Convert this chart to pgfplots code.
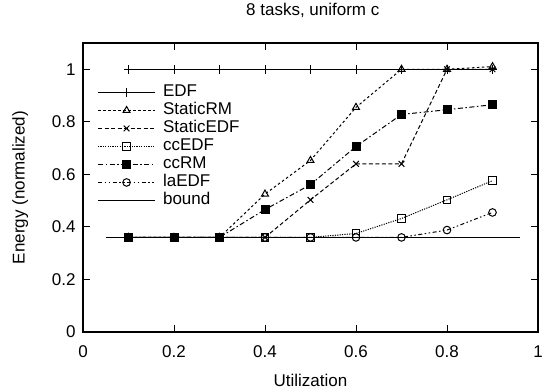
\documentclass[border=0pt]{standalone}
\usepackage{pgfplots}
\pgfplotsset{compat=1.18}
\usetikzlibrary{calc}
\usepackage{fontspec}
\setmainfont{Liberation Sans}
\newcommand{\lgap}{\hspace{7pt}}
\begin{document}
\begin{tikzpicture}
\begin{axis}[
  name=ax,
  scale only axis,
  width=455pt, height=289pt,
  xmin=0, xmax=1, ymin=0, ymax=1.1,
  xtick={0,0.2,0.4,0.6,0.8,1},
  ytick={0,0.2,0.4,0.6,0.8,1},
  xticklabels={0,0.2,0.4,0.6,0.8,1},
  yticklabels={0,0.2,0.4,0.6,0.8,1},
  tick align=inside,
  major tick length=7pt,
  axis line style={line width=1.4pt},
  every tick/.style={line width=1pt,black},
  tick label style={font=\fontsize{17}{19}\selectfont},
  xticklabel style={yshift=-10pt},
  yticklabel style={xshift=-4pt},
  label style={font=\fontsize{17}{19}\selectfont},
  xlabel style={at={(axis description cs:0.5,-0.166)}, anchor=center},
  ylabel style={at={(axis description cs:-0.138,0.5)}, anchor=center},
  title style={font=\fontsize{17}{19}\selectfont, at={(axis description cs:0.505,1.093)}, anchor=center},
  title={8 tasks, uniform c},
  xlabel={Utilization},
  ylabel={Energy (normalized)},
  legend style={draw=none, fill=none, at={(axis description cs:0.025,0.865)}, anchor=north west,
    font=\fontsize{17}{19}\selectfont, row sep=1.5pt, cells={anchor=west},
    nodes={inner sep=0.5pt, text height=12pt, text depth=3.5pt}},
  legend image code/.code={\draw[mark repeat=2,mark phase=2] plot coordinates {(0pt,0pt) (28.5pt,0pt) (57pt,0pt)};},
  every axis plot/.append style={black, line width=1pt},
]
\addplot[solid, mark=+, mark size=4.5pt] coordinates {(0.1,1)(0.2,1)(0.3,1)(0.4,1)(0.5,1)(0.6,1)(0.7,1)(0.8,1)(0.9,1)};
\addlegendentry{\lgap EDF}
\addplot[dash pattern=on 2.5pt off 2.5pt, mark=triangle, mark size=4pt, mark options={solid}] coordinates {(0.1,0.36)(0.2,0.36)(0.3,0.36)(0.4,0.525)(0.5,0.653)(0.6,0.855)(0.7,1.0)(0.8,1.0)(0.9,1.01)};
\addlegendentry{\lgap StaticRM}
\addplot[dash pattern=on 4pt off 2.5pt, mark=x, mark size=4pt, mark options={solid}] coordinates {(0.1,0.36)(0.2,0.36)(0.3,0.36)(0.4,0.36)(0.5,0.503)(0.6,0.64)(0.7,0.64)(0.8,1.0)(0.9,1.0)};
\addlegendentry{\lgap StaticEDF}
\addplot[dash pattern=on 1.2pt off 1.2pt, mark=square, mark size=3.8pt, mark options={solid}] coordinates {(0.1,0.36)(0.2,0.36)(0.3,0.36)(0.4,0.36)(0.5,0.36)(0.6,0.375)(0.7,0.432)(0.8,0.503)(0.9,0.576)};
\addlegendentry{\lgap ccEDF}
\addplot[dash pattern=on 5pt off 2.5pt on 1.5pt off 2.5pt, mark=square*, mark size=4pt, mark options={solid}] coordinates {(0.1,0.36)(0.2,0.36)(0.3,0.36)(0.4,0.466)(0.5,0.561)(0.6,0.706)(0.7,0.828)(0.8,0.846)(0.9,0.865)};
\addlegendentry{\lgap ccRM}
\addplot[dash pattern=on 4pt off 2.5pt on 1.5pt off 2.5pt on 1.5pt off 2.5pt, mark=o, mark size=3.8pt, mark options={solid}] coordinates {(0.1,0.36)(0.2,0.36)(0.3,0.36)(0.4,0.36)(0.5,0.36)(0.6,0.36)(0.7,0.36)(0.8,0.388)(0.9,0.455)};
\addlegendentry{\lgap laEDF}
\addplot[solid, no marks, line width=1pt] coordinates {(0.05,0.36)(0.96,0.36)};
\addlegendentry{\lgap bound}
\end{axis}
\pgfresetboundingbox
\path ($(ax.south west)+(-83pt,-60pt)$) rectangle ($(ax.north east)+(5pt,43pt)$);
\end{tikzpicture}
\end{document}
